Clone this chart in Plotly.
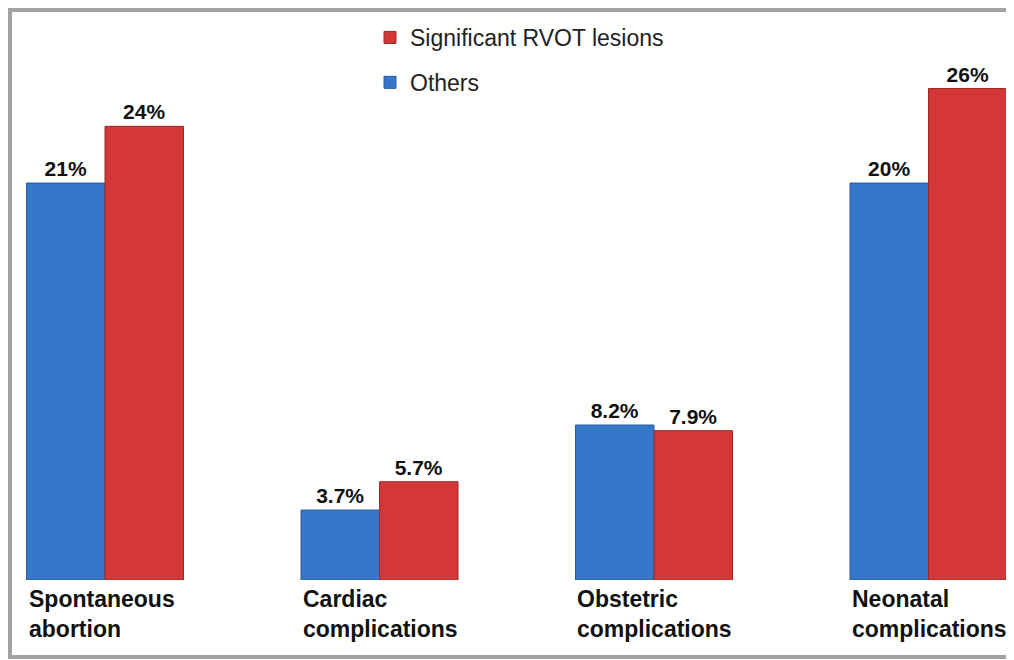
import plotly.graph_objects as go

categories = ["Spontaneous<br>abortion", "Cardiac<br>complications",
              "Obstetric<br>complications", "Neonatal<br>complications"]
# bar heights as drawn in the picture
others = [21, 3.7, 8.2, 21]
others_labels = ["21%", "3.7%", "8.2%", "20%"]
rvot = [24, 5.2, 7.9, 26]
rvot_labels = ["24%", "5.7%", "7.9%", "26%"]

FONT = "Arial, 'Liberation Sans', sans-serif"
xs = list(range(len(categories)))
W, H = 1006, 652

fig = go.Figure()
fig.add_trace(go.Bar(
    x=xs, y=others, name="Others", text=["<b>" + t + "</b>" for t in others_labels],
    textposition="outside", cliponaxis=False,
    textfont=dict(family=FONT, size=21, color="#111111"),
    marker=dict(color="#3577c9", line=dict(color="#2a5a9c", width=1)),
    legendgroup="b", legendrank=2,
))
fig.add_trace(go.Bar(
    x=xs, y=rvot, name="Significant RVOT lesions", text=["<b>" + t + "</b>" for t in rvot_labels],
    textposition="outside", cliponaxis=False,
    textfont=dict(family=FONT, size=21, color="#111111"),
    marker=dict(color="#d43737", line=dict(color="#9c2a2a", width=1)),
    legendgroup="a", legendrank=1,
))

half_group = (1 - 0.428) / 2
for i, c in enumerate(categories):
    fig.add_annotation(
        x=i - half_group, y=0, xref="x", yref="paper",
        xanchor="left", yanchor="top", yshift=-4,
        text="<b>" + c + "</b>", showarrow=False, align="left",
        font=dict(family=FONT, size=23, color="#111111"),
    )

fig.add_shape(type="rect", xref="paper", yref="paper",
              x0=2 / W, x1=1.05, y0=(572 - 649) / 572, y1=(572 - 2) / 572,
              line=dict(color="#a3a3a3", width=4), fillcolor="rgba(0,0,0,0)",
              layer="below")

fig.update_layout(
    width=W, height=H,
    margin=dict(l=0, r=0, t=0, b=80),
    paper_bgcolor="white", plot_bgcolor="white",
    barmode="group", bargap=0.428, bargroupgap=0,
    showlegend=True,
    legend=dict(x=362 / W, y=1 - 8 / 572, xanchor="left", yanchor="top",
                traceorder="grouped", tracegroupgap=12,
                font=dict(family=FONT, size=23, color="#222222"),
                bgcolor="rgba(0,0,0,0)"),
    xaxis=dict(range=[-0.3534, 3.3115], showticklabels=False, showgrid=False,
               zeroline=False, showline=False, ticks=""),
    yaxis=dict(range=[0, 30.26], showticklabels=False, showgrid=False,
               zeroline=False, showline=False, ticks=""),
)

fig.write_html("out.html")
